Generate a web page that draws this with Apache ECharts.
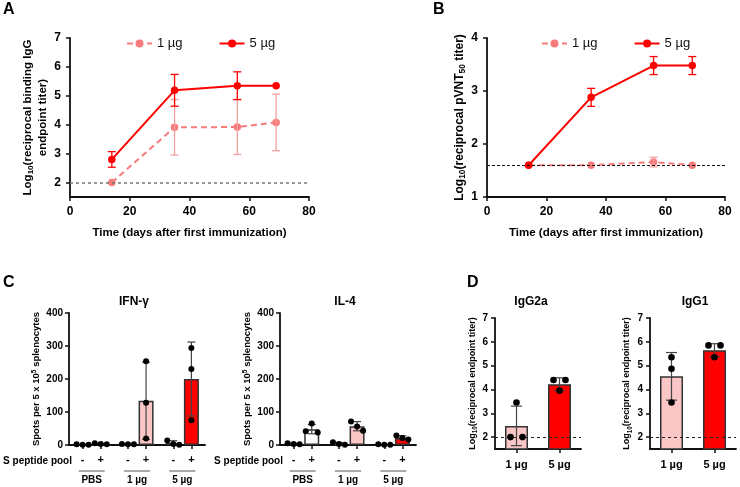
<!DOCTYPE html>
<html><head><meta charset="utf-8">
<script src="https://cdn.jsdelivr.net/npm/echarts@6/dist/echarts.min.js"></script>
<style>html,body{margin:0;padding:0;background:#fff}#c{width:740px;height:487px}</style>
</head><body><div id="c"></div><script>
const FONT = "'Liberation Sans', Arial, sans-serif";

// ---- Panels A / B : time course ----
const days = [14, 35, 56, 69];
const doseNames = ['1 µg', '5 µg'];
const igg1Mean = [2.0, 3.91, 3.92, 4.08];
const igg1Sd   = [0, 0.96, 0.95, 0.98];
const igg5Mean = [2.8, 5.19, 5.35, 5.35];
const igg5Sd   = [0.27, 0.55, 0.48, 0];
const pvnt1Mean = [1.6, 1.6, 1.66, 1.6];
const pvnt1Sd   = [0, 0, 0.09, 0];
const pvnt5Mean = [1.6, 2.88, 3.48, 3.48];
const pvnt5Sd   = [0, 0.17, 0.17, 0.17];
const iggLimit = 2;
const pvntLimit = 1.6;

// ---- Panel C : ELISpot ----
const groupNames = ['PBS', '1 µg', '5 µg'];
const stimNames = ['-', '+'];
const ifnMean = [1.5, 3.5, 2.5, 134, 6, 200];
const ifnSd   = [0.6, 1.5, 0.6, 117, 7, 112];
const ifnDots = [[2, 1, 1], [5, 3, 2], [3, 2, 2], [254, 128, 20], [14, 3, 1], [294, 230, 75]];
const il4Mean = [3.3, 48, 4, 57, 1.3, 22];
const il4Sd   = [1.5, 14, 3.6, 14, 0.6, 6];
const il4Dots = [[5, 3, 2], [65, 42, 38], [8, 3, 1], [71, 56, 43], [2, 1, 1], [29, 21, 17]];

// ---- Panel D : IgG subclasses ----
const dCats = ['1 µg', '5 µg'];
const g2aMean = [2.47, 4.22];
const g2aSd   = [0.83, 0.27];
const g2aDots = [[3.45, 2.0, 2.0], [4.4, 4.4, 3.95]];
const g1Mean  = [4.55, 5.65];
const g1Sd    = [1.0, 0.27];
const g1Dots  = [[5.35, 4.87, 3.45], [5.85, 5.85, 5.35]];
const dLimit = 2;

// ---- styling ----
const RED = '#ff0000', PINK_LINE = '#f77b7b', PINK_ERR = '#f5a0a0', PINK_FILL = '#fbc6c6';
const AX = '#111', BARLINE = '#333';
const groupFill = ['#ffffff', PINK_FILL, RED];
const NS = 15, SLOTS = [1, 3, 6, 8, 11, 13];
const slotNames = Array.from({length: NS}, (_, i) => 's' + i);
const slotLabel = {};
SLOTS.forEach((s, i) => { slotLabel['s' + s] = stimNames[i % 2]; });
const inSlots = (i) => SLOTS.indexOf(i) >= 0;

function lbl(fs, margin, extra) {
  return Object.assign({color: '#000', fontFamily: FONT, fontWeight: 'bold', fontSize: fs, margin: margin}, extra || {});
}
const axLine = {show: true, onZero: false, lineStyle: {color: AX, width: 1.8}};
const axTick = {show: true, length: 4, lineStyle: {color: AX, width: 1.5}};
function nameStyle(fs, lh) {
  return {fontSize: fs, fontWeight: 'bold', fontFamily: FONT, color: '#000', lineHeight: lh,
    rich: {
      sub: {fontSize: fs * 0.7, fontWeight: 'bold', fontFamily: FONT, color: '#000', verticalAlign: 'bottom', lineHeight: lh},
      sup: {fontSize: fs * 0.7, fontWeight: 'bold', fontFamily: FONT, color: '#000', verticalAlign: 'top', lineHeight: lh}
    }};
}

function zip(xs, ys) { return xs.map((x, i) => [x, ys[i]]); }

function errSeries(xi, yi, xs, means, sds, color, cap) {
  return {
    type: 'custom', xAxisIndex: xi, yAxisIndex: yi, silent: true, z: 3,
    data: xs.map((x, i) => [x, means[i], sds[i]]),
    encode: {x: 0, y: 1},
    renderItem: function (params, api) {
      const x = api.value(0), m = api.value(1), s = api.value(2);
      if (!s) return {type: 'group', children: []};
      const t = api.coord([x, m + s]), b = api.coord([x, m - s]);
      const st = {stroke: color, lineWidth: 1.3};
      return {type: 'group', children: [
        {type: 'line', shape: {x1: t[0], y1: t[1], x2: b[0], y2: b[1]}, style: st},
        {type: 'line', shape: {x1: t[0] - cap / 2, y1: t[1], x2: t[0] + cap / 2, y2: t[1]}, style: st},
        {type: 'line', shape: {x1: b[0] - cap / 2, y1: b[1], x2: b[0] + cap / 2, y2: b[1]}, style: st}
      ]};
    }
  };
}

function overlaySeries(xi, yi, xs, means, sds, dots, yMin, cap, r, spread, thr) {
  return {
    type: 'custom', xAxisIndex: xi, yAxisIndex: yi, silent: true, z: 5,
    data: xs.map((x, i) => [x, means[i], sds[i], dots[i][0], dots[i][1], dots[i][2]]),
    encode: {x: 0, y: 1},
    renderItem: function (params, api) {
      const x = api.value(0), m = api.value(1), s = api.value(2);
      const ch = [];
      const st = {stroke: '#444', lineWidth: 1.2};
      if (s > 0) {
        const t = api.coord([x, m + s]), b = api.coord([x, Math.max(m - s, yMin)]);
        ch.push({type: 'line', shape: {x1: t[0], y1: t[1], x2: b[0], y2: b[1]}, style: st});
        ch.push({type: 'line', shape: {x1: t[0] - cap / 2, y1: t[1], x2: t[0] + cap / 2, y2: t[1]}, style: st});
        if (m - s > yMin) ch.push({type: 'line', shape: {x1: b[0] - cap / 2, y1: b[1], x2: b[0] + cap / 2, y2: b[1]}, style: st});
      }
      const cx = api.coord([x, m])[0];
      const ys = [3, 4, 5].map(k => api.coord([x, api.value(k)])[1]);
      const order = [0, 1, 2].sort((a, b) => ys[a] - ys[b]);
      const clusters = [];
      order.forEach(k => {
        const c = clusters[clusters.length - 1];
        if (c && ys[k] - ys[c[c.length - 1]] < thr) c.push(k); else clusters.push([k]);
      });
      clusters.forEach(c => {
        const n = c.length;
        c.forEach((k, j) => {
          const off = n === 1 ? 0 : -spread + j * (2 * spread / (n - 1));
          ch.push({type: 'circle', shape: {cx: cx + off, cy: ys[k], r: r}, style: {fill: '#000'}});
        });
      });
      return {type: 'group', children: ch};
    }
  };
}

function slotBarData(vals) {
  const a = new Array(NS).fill('-');
  SLOTS.forEach((s, i) => { a[s] = {value: vals[i], itemStyle: {color: groupFill[Math.floor(i / 2)]}}; });
  return a;
}

const grids = [
  {left: 70, top: 38, width: 239, height: 159},   // A
  {left: 487, top: 38, width: 238, height: 159},  // B
  {left: 69, top: 313, width: 136, height: 132},  // C IFN
  {left: 280, top: 313, width: 136, height: 132}, // C IL-4
  {left: 495, top: 318, width: 86, height: 131},  // D IgG2a
  {left: 650, top: 318, width: 86, height: 131}   // D IgG1
].map(g => Object.assign({containLabel: false, outerBoundsMode: 'none'}, g));

function timeXAxis(gi) {
  return {type: 'value', gridIndex: gi, min: 0, max: 80, interval: 20,
    axisLine: axLine, axisTick: axTick, splitLine: {show: false}, axisLabel: lbl(12, 9),
    name: 'Time (days after first immunization)', nameLocation: 'middle', nameGap: 29,
    nameTextStyle: nameStyle(11.5, 14)};
}
function slotXAxis(gi) {
  return {type: 'category', gridIndex: gi, data: slotNames,
    axisLine: axLine,
    axisTick: Object.assign({}, axTick, {alignWithLabel: true, interval: inSlots}),
    axisLabel: lbl(11, 9, {interval: inSlots, formatter: v => slotLabel[v] || ''})};
}
function groupXAxis(gi) {
  return {type: 'category', gridIndex: gi, data: groupNames, position: 'bottom', offset: 15,
    axisLine: {show: false}, axisTick: {show: false},
    axisLabel: {interval: 0, margin: 8, formatter: v => '{l|}\n{t|' + v + '}',
      rich: {
        l: {width: 26, height: 1, lineHeight: 6, backgroundColor: '#555'},
        t: {fontSize: 10, fontWeight: 'bold', fontFamily: FONT, color: '#000', lineHeight: 12}
      }}};
}
function dXAxis(gi) {
  return {type: 'category', gridIndex: gi, data: dCats, axisLine: axLine,
    axisTick: Object.assign({}, axTick, {alignWithLabel: true}), axisLabel: lbl(11, 10)};
}

const xAxis = [timeXAxis(0), timeXAxis(1), slotXAxis(2), groupXAxis(2), slotXAxis(3), groupXAxis(3), dXAxis(4), dXAxis(5)];

const yAxis = [
  {type: 'value', gridIndex: 0, min: 1.5, max: 7, splitNumber: 6,
    axisLine: axLine, axisTick: axTick, splitLine: {show: false}, axisLabel: lbl(12, 9, {showMinLabel: false}),
    name: 'Log{sub|10}(reciprocal binding IgG\nendpoint titer)', nameLocation: 'middle', nameRotate: 90, nameGap: 20,
    nameTextStyle: nameStyle(11.5, 15)},
  {type: 'value', gridIndex: 1, min: 1, max: 4, interval: 1,
    axisLine: axLine, axisTick: axTick, splitLine: {show: false}, axisLabel: lbl(12, 9),
    name: 'Log{sub|10}(reciprocal pVNT{sub|50} titer)', nameLocation: 'middle', nameRotate: 90, nameGap: 20,
    nameTextStyle: nameStyle(12, 14)},
  {type: 'value', gridIndex: 2, min: 0, max: 400, interval: 100,
    axisLine: axLine, axisTick: axTick, splitLine: {show: false}, axisLabel: lbl(10, 6),
    name: 'Spots per 5 x 10{sup|5} splenocytes', nameLocation: 'middle', nameRotate: 90, nameGap: 25,
    nameTextStyle: nameStyle(9.5, 12)},
  {type: 'value', gridIndex: 3, min: 0, max: 400, interval: 100,
    axisLine: axLine, axisTick: axTick, splitLine: {show: false}, axisLabel: lbl(10, 6),
    name: 'Spots per 5 x 10{sup|5} splenocytes', nameLocation: 'middle', nameRotate: 90, nameGap: 26,
    nameTextStyle: nameStyle(9.5, 12)},
  {type: 'value', gridIndex: 4, min: 1.5, max: 7, splitNumber: 6,
    axisLine: axLine, axisTick: axTick, splitLine: {show: false}, axisLabel: lbl(10, 7, {showMinLabel: false}),
    name: 'Log{sub|10}(reciprocal endpoint titer)', nameLocation: 'middle', nameRotate: 90, nameGap: 16,
    nameTextStyle: nameStyle(9, 12)},
  {type: 'value', gridIndex: 5, min: 1.5, max: 7, splitNumber: 6,
    axisLine: axLine, axisTick: axTick, splitLine: {show: false}, axisLabel: lbl(10, 7, {showMinLabel: false}),
    name: 'Log{sub|10}(reciprocal endpoint titer)', nameLocation: 'middle', nameRotate: 90, nameGap: 17,
    nameTextStyle: nameStyle(9, 12)}
];

function lineSeries(xi, name, means, color, dashed, z) {
  return {type: 'line', name: name, xAxisIndex: xi, yAxisIndex: xi, data: zip(days, means),
    symbol: 'circle', symbolSize: 7.5, z: z,
    itemStyle: {color: color},
    lineStyle: {color: color, width: 2, type: dashed ? [6, 4] : 'solid'}};
}
function limitLine(val, color, dash, w) {
  return {silent: true, symbol: ['none', 'none'], label: {show: false},
    lineStyle: {color: color, type: dash, width: w}, emphasis: {disabled: true}, data: [{yAxis: val}]};
}

const series = [];
// A
const a1 = lineSeries(0, doseNames[0], igg1Mean, PINK_LINE, true, 2);
a1.markLine = limitLine(iggLimit, '#777', [3, 3], 1.5);
series.push(errSeries(0, 0, days, igg1Mean, igg1Sd, PINK_ERR, 8), a1,
  errSeries(0, 0, days, igg5Mean, igg5Sd, RED, 8), lineSeries(0, doseNames[1], igg5Mean, RED, false, 4));
// B
const b1 = lineSeries(1, doseNames[0], pvnt1Mean, PINK_LINE, true, 2);
b1.markLine = limitLine(pvntLimit, '#111', [3, 2], 1);
series.push(errSeries(1, 1, days, pvnt1Mean, pvnt1Sd, PINK_ERR, 8), b1,
  errSeries(1, 1, days, pvnt5Mean, pvnt5Sd, RED, 8), lineSeries(1, doseNames[1], pvnt5Mean, RED, false, 4));
// C
series.push({type: 'bar', name: 'IFN-γ', xAxisIndex: 2, yAxisIndex: 2, data: slotBarData(ifnMean), barWidth: 15,
  itemStyle: {borderColor: BARLINE, borderWidth: 1.5}, silent: true});
series.push(overlaySeries(2, 2, SLOTS, ifnMean, ifnSd, ifnDots, 0, 8, 3, 6, 6));
series.push({type: 'bar', name: 'IL-4', xAxisIndex: 4, yAxisIndex: 3, data: slotBarData(il4Mean), barWidth: 15,
  itemStyle: {borderColor: BARLINE, borderWidth: 1.5}, silent: true});
series.push(overlaySeries(4, 3, SLOTS, il4Mean, il4Sd, il4Dots, 0, 8, 3, 6, 6));
// D
function dBar(xi, yi, name, means) {
  return {type: 'bar', name: name, xAxisIndex: xi, yAxisIndex: yi, barWidth: 23, silent: true,
    data: means.map((v, i) => ({value: v, itemStyle: {color: [PINK_FILL, RED][i]}})),
    itemStyle: {borderColor: BARLINE, borderWidth: 1.5},
    markLine: limitLine(dLimit, '#222', [3, 3], 1)};
}
series.push(dBar(6, 4, 'IgG2a', g2aMean), overlaySeries(6, 4, [0, 1], g2aMean, g2aSd, g2aDots, 1.5, 11, 3.3, 6, 7));
series.push(dBar(7, 5, 'IgG1', g1Mean), overlaySeries(7, 5, [0, 1], g1Mean, g1Sd, g1Dots, 1.5, 11, 3.3, 6, 7));

function txt(t, x, y, fs, align, weight) {
  return {type: 'text', x: x, y: y, silent: true,
    style: {text: t, fontSize: fs, fontWeight: weight || 'bold', fontFamily: FONT, fill: '#000',
      align: align || 'left', verticalAlign: 'middle'}};
}

const legendCommon = {itemWidth: 25, itemHeight: 10, itemGap: 36,
  textStyle: {fontSize: 13, fontFamily: FONT, color: '#111'}, selectedMode: false};

const option = {
  animation: false,
  backgroundColor: '#fff',
  grid: grids,
  xAxis: xAxis,
  yAxis: yAxis,
  legend: [
    Object.assign({}, legendCommon, {data: doseNames, left: 121, top: 32}),
    Object.assign({}, legendCommon, {data: doseNames, left: 536, top: 32})
  ],
  series: series,
  graphic: [
    txt('A', 3, 10, 16), txt('B', 433, 10, 16), txt('C', 3, 283, 16), txt('D', 467, 283, 16),
    txt('IFN-γ', 134, 302, 12, 'center'), txt('IL-4', 345, 302, 12, 'center'),
    txt('IgG2a', 531, 302, 12, 'center'), txt('IgG1', 695, 302, 12, 'center'),
    txt('S peptide pool', 72, 461, 10, 'right'), txt('S peptide pool', 283, 461, 10, 'right')
  ]
};

const chart = echarts.init(document.getElementById('c'));
chart.setOption(option);
</script></body></html>
